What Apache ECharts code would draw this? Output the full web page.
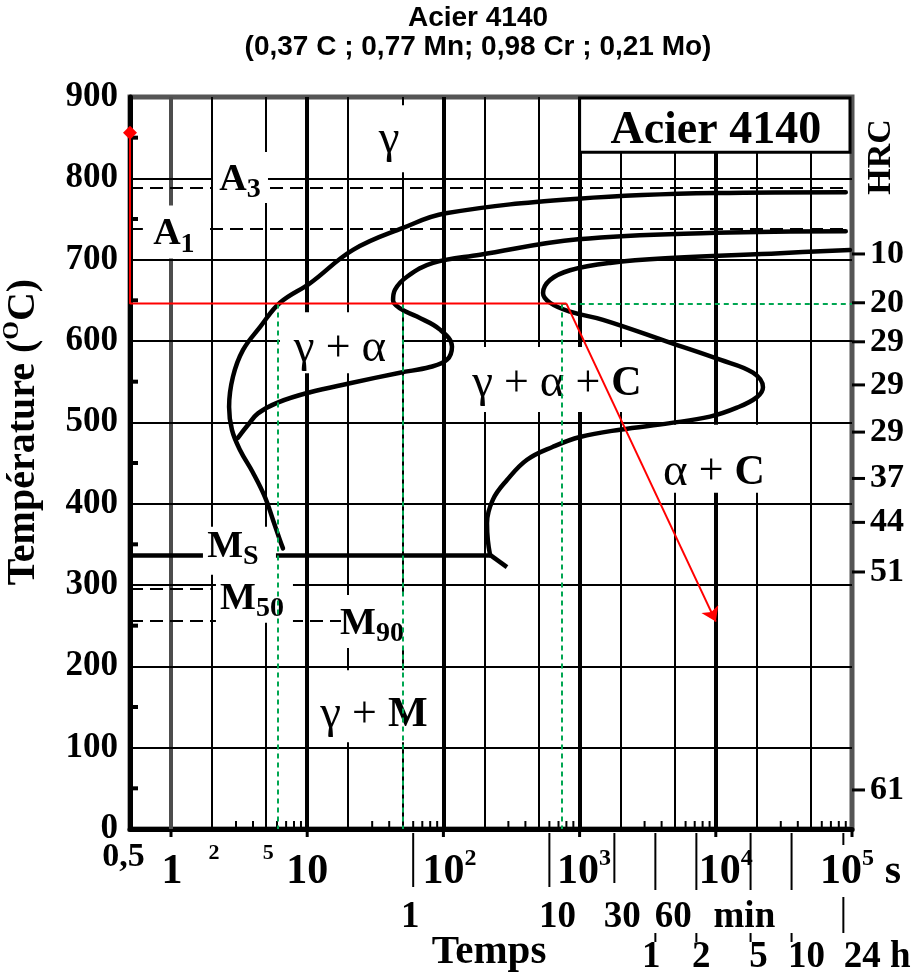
<!DOCTYPE html>
<html>
<head>
<meta charset="utf-8">
<script src="https://cdn.jsdelivr.net/npm/echarts@6/dist/echarts.min.js"></script>
<style>
html,body{margin:0;padding:0;background:#fff;}
#chart{width:920px;height:978px;}
</style>
</head>
<body>
<div id="chart"></div>
<script>
// ====================== DATA ======================
const timeMin = 0.5;
const timeMax = 100000;
const tempMin = 0;
const tempMax = 900;
const tempStep = 100;

const gridTimesGray = [1];
const gridTimesBold = [10, 100, 1000, 10000];
const gridTimesThin = [2, 5, 20, 50, 200, 500, 2000, 5000, 20000, 50000];
const gridTemps = [100, 200, 300, 400, 500, 600, 700, 800];

const tempA3 = 788;
const tempA1 = 738;
const tempMs = 337;
const tempM50 = 295;
const tempM90 = 256;

// [time (s), temperature (°C)]
const startCurve = [
  [90000, 783], [10000, 782], [973, 775], [104, 757], [50.5, 739], [21.7, 712],
  [10.5, 671], [6.31, 647], [4.50, 617], [3.38, 589], [2.85, 556], [2.67, 519],
  [2.80, 491], [3.21, 466], [4.00, 438], [4.90, 408], [5.61, 380], [6.31, 355], [6.64, 345]
];
const ferriteCurve = [
  [90000, 735], [10000, 733], [973, 725], [186, 706], [84, 696], [54, 679],
  [44.1, 663], [42.7, 650], [48.0, 640], [64.0, 630], [94.4, 614], [115.6, 593],
  [106.3, 577], [79.7, 568], [48.0, 561], [20.6, 548], [10.5, 537], [6.0, 524],
  [4.35, 511], [3.68, 497], [3.10, 481]
];
const endCurve = [
  [96600, 712], [29600, 708], [4610, 702], [1670, 696], [851, 687], [606, 675],
  [539, 659], [606, 647], [851, 636], [1486, 626], [4610, 598], [10740, 577],
  [18750, 561], [22200, 543], [20060, 531], [14300, 518], [9060, 507], [4610, 499],
  [1980, 491], [1007, 482], [638, 470], [411, 454], [293, 429], [231, 405],
  [209, 376], [212, 355], [220, 337]
];
const msLine = [[0.52, 337], [220, 337]];
const msTail = [[220, 337], [293, 322]];

const coolPath = [[0.5, 856], [0.5, 646], [800, 646]];
const coolArrow = [[800, 646], [10000, 255]];
const guideTemp = 646;
const guideTimes = [6.1, 50, 740];

const hrcTemps = [707, 647, 599, 546, 488, 431, 377, 316, 48];
const hrcLabels = ['10', '20', '29', '29', '29', '37', '44', '51', '61'];

const halfTemps = [50, 150, 250, 350, 450, 550, 650, 750, 850];
const decadeTimes = [1, 10, 100, 1000, 10000, 100000];
const minorMultipliers = [3, 4, 6, 7, 8, 9];

const secLabelTimes = [0.5, 1, 2, 5, 10, 100, 1000, 10000, 100000];
const secLabels = ['0,5', '1', '2', '5', '10', '10{s|2}', '10{s|3}', '10{s|4}', '10{s|5}'];
const minuteValues = [1, 10, 30, 60];
const minuteLabels = ['1', '10', '30', '60'];
const hourValues = [1, 2, 5, 10, 24];
const hourLabels = ['1', '2', '5', '10', '24'];

const regionTexts = [
  '{g|γ}', 'A{sub|3}', 'A{sub|1}', '{g|γ}{p| + }{g|α}', '{g|γ}{p| + }{g|α}{p| + }C',
  '{g|α}{p| + }C', 'M{sub|S}', 'M{sub|50}', 'M{sub|90}', '{g|γ}{p| + }M'
];
const regionAnchors = [
  [39.9, 848], [3.21, 798], [1.05, 731], [17.4, 590], [682, 547],
  [9700, 438], [2.85, 347], [3.93, 283], [29.9, 252], [30.9, 140]
];
const acierBox = [[1000, 900], [100000, 832]];

// ====================== STYLE / LAYOUT ======================
const SERIF = '"Liberation Serif","Times New Roman",serif';
const SANS = '"Liberation Sans",Arial,sans-serif';
function fnt(size, weight) { return (weight || 'bold') + ' ' + size + 'px ' + SERIF; }

// white boxes around region labels: [left, top, right, bottom] px relative to anchor
const regionBoxes = [
  [-29, -34, 16, 33], [-27, -28, 28, 23], [-31, -29, 32, 24], [-60, -37, 62, 24], [-87, -37, 83, 28],
  [-64, -48, 76, 20], [-30, -20, 43, 28], [-36, -26, 41, 24], [-31, -29, 38, 24], [-59, -45, 56, 27]
];
const regionFontSize = [42, 38, 38, 42, 42, 42, 38, 38, 38, 42];
const regionRich = {
  g: { font: fnt(47, 'normal'), lineHeight: 48 },
  p: { font: fnt(44, 'normal'), lineHeight: 48 },
  sub: { font: fnt(28), lineHeight: 28, verticalAlign: 'bottom' }
};
const supRich = { s: { font: fnt(24), lineHeight: 24, verticalAlign: 'top' } };

// row-1 label layout (dx, dy, size, align)
const secLabelLayout = [
  [-6.5, 28, 34, 'center'], [1, 43, 42, 'center'], [2, 24, 22, 'center'], [2, 24, 22, 'center'],
  [0, 43, 42, 'center'], [-21, 43, 42, 'left'], [-22.6, 43, 42, 'left'], [-17, 43, 42, 'left'], [-32, 43, 42, 'left']
];
const minuteLabelDx = [-3, 8, 8, 18];
const hourLabelDx = [-4, 5, 8, 15, 19];

function rectEl(x, y, w, h, fill) {
  return { type: 'rect', shape: { x: x, y: y, width: w, height: h }, style: { fill: fill || '#000' } };
}
function lineEl(x1, y1, x2, y2, w) {
  return { type: 'line', shape: { x1: x1, y1: y1, x2: x2, y2: y2 }, style: { stroke: '#000', lineWidth: w || 2 } };
}
function textEl(x, y, text, size, o) {
  o = o || {};
  return {
    type: 'text', x: x, y: y, rotation: o.rotation || 0,
    style: {
      text: text, font: o.font || fnt(size, o.weight), fill: '#000',
      align: o.align || 'center', verticalAlign: 'middle',
      lineHeight: o.lh || Math.round(size * 1.2), rich: o.rich || {}
    }
  };
}

// ====================== DECORATION ITEMS ======================
const decor = [];
halfTemps.forEach(function (T) {
  decor.push({ at: [timeMin, T], draw: function (p) { return [rectEl(p[0] + 2, p[1] - 2, 6, 4)]; } });
});
decadeTimes.slice(0, 5).forEach(function (d) {
  minorMultipliers.forEach(function (m) {
    decor.push({ at: [d * m, 0], draw: function (p) { return [rectEl(p[0] - 1, p[1] - 8, 2, 6)]; } });
  });
});
decadeTimes.forEach(function (t) {
  decor.push({ at: [t, 0], draw: function (p) { return [rectEl(p[0] - 1.5, p[1] + 2, 3, 6)]; } });
});
// minute ticks & labels
minuteValues.forEach(function (m, i) {
  const len = m === 30 ? 54 : (m === 60 ? 61 : 58);
  decor.push({ at: [m * 60, 0], draw: function (p) {
    return [lineEl(p[0], p[1] + 4, p[0], p[1] + len, 2),
            textEl(p[0] + minuteLabelDx[i], p[1] + 88, minuteLabels[i], 37)];
  } });
});
// hour ticks & labels
hourValues.forEach(function (h, i) {
  decor.push({ at: [h * 3600, 0], draw: function (p) {
    const els = [];
    if (h === 24) {
      els.push(lineEl(p[0], p[1] + 4, p[0], p[1] + 16, 2));
      els.push(lineEl(p[0], p[1] + 68, p[0], p[1] + 104, 2));
    } else {
      if (h !== 1) els.push(lineEl(p[0], p[1] + 4, p[0], p[1] + 61, 2));
      els.push(lineEl(p[0], p[1] + 104, p[0], p[1] + 113, 2));
    }
    els.push(textEl(p[0] + hourLabelDx[i], p[1] + 128, hourLabels[i], 37));
    if (h === 24) els.push(textEl(p[0] + 57, p[1] + 128, 'h', 37));
    return els;
  } });
});
// "min" unit
decor.push({ at: [minuteValues[3] * 60, 0], draw: function (p) { return [textEl(p[0] + 89, p[1] + 88, 'min', 37)]; } });
// seconds row
secLabelTimes.forEach(function (t, i) {
  const L = secLabelLayout[i];
  decor.push({ at: [t, 0], draw: function (p) {
    const els = [textEl(p[0] + L[0], p[1] + L[1], secLabels[i], L[2], { align: L[3], lh: 50, rich: supRich })];
    if (t === timeMax) els.push(textEl(p[0] + 41, p[1] + 43, 's', 42, { lh: 50 }));
    return els;
  } });
});
// HRC ticks & labels
hrcTemps.forEach(function (T, i) {
  decor.push({ at: [timeMax, T], draw: function (p) {
    return [rectEl(p[0], p[1] - 1.5, 13, 3), textEl(p[0] + 18, p[1], hrcLabels[i], 34, { align: 'left' })];
  } });
});

// ====================== SERIES ======================
function linesSeries(segs, lineStyle, z, extra) {
  return Object.assign({
    type: 'lines', coordinateSystem: 'cartesian2d', polyline: false, silent: true, z: z,
    lineStyle: Object.assign({ opacity: 1, curveness: 0 }, lineStyle),
    data: segs.map(function (c) { return { coords: c }; })
  }, extra || {});
}
const vSeg = function (t) { return [[t, tempMin], [t, tempMax]]; };
const hSeg = function (T) { return [[timeMin, T], [timeMax, T]]; };
function curveSeries(data) {
  return { type: 'line', data: data, smooth: 0.4, symbol: 'none', showSymbol: false, silent: true, clip: false,
    lineStyle: { color: '#000', width: 4.5, cap: 'round', join: 'round' }, z: 4 };
}

const series = [
  linesSeries(gridTimesGray.map(vSeg), { color: '#4d4d4d', width: 4 }, 1),
  linesSeries(gridTimesBold.map(vSeg), { color: '#000', width: 4 }, 1),
  linesSeries(gridTimesThin.map(vSeg), { color: '#000', width: 2 }, 1),
  linesSeries(gridTemps.map(hSeg), { color: '#000', width: 2 }, 1),
  linesSeries([
    [[timeMin, tempA3], [95000, tempA3]],
    [[timeMin, tempA1], [95000, tempA1]],
    [[timeMin, tempM50], [1.95, tempM50]],
    [[timeMin, tempM90], [27, tempM90]]
  ], { color: '#000', width: 2, type: [13, 7] }, 2),
  linesSeries([msLine, msTail], { color: '#000', width: 4.5 }, 2),
  curveSeries(startCurve),
  curveSeries(ferriteCurve),
  curveSeries(endCurve),
  {
    type: 'custom', coordinateSystem: 'cartesian2d', z: 3, silent: true, clip: false,
    data: regionAnchors, encode: { x: 0, y: 1 },
    renderItem: function (params, api) {
      const i = params.dataIndex;
      const p = api.coord(regionAnchors[i]);
      const b = regionBoxes[i];
      return { type: 'group', children: [
        rectEl(p[0] + b[0], p[1] + b[1], b[2] - b[0], b[3] - b[1], '#fff'),
        textEl(p[0], p[1], regionTexts[i], regionFontSize[i], { lh: 48, rich: regionRich })
      ] };
    }
  },
  {
    type: 'custom', coordinateSystem: 'cartesian2d', z: 3, silent: true, clip: false,
    data: [acierBox[0]], encode: { x: 0, y: 1 },
    renderItem: function (params, api) {
      const a = api.coord(acierBox[0]);
      const b = api.coord(acierBox[1]);
      return { type: 'group', children: [
        { type: 'rect', shape: { x: a[0], y: a[1] + 1, width: b[0] - a[0] - 2, height: b[1] - a[1] - 1 },
          style: { fill: '#fff', stroke: '#000', lineWidth: 3 } },
        textEl((a[0] + b[0]) / 2, b[1] - 21, 'Acier 4140', 46)
      ] };
    }
  },
  {
    type: 'custom', coordinateSystem: 'cartesian2d', z: 3, silent: true, clip: false,
    data: decor.map(function (d) { return d.at; }), encode: { x: 0, y: 1 },
    renderItem: function (params, api) {
      const d = decor[params.dataIndex];
      return { type: 'group', children: d.draw(api.coord(d.at)) };
    }
  },
  linesSeries(
    guideTimes.map(function (t) { return [[t, guideTemp], [t, tempMin]]; })
      .concat([[[guideTimes[2], guideTemp], [timeMax, guideTemp]]]),
    { color: '#00a651', width: 2, type: [5, 4] }, 5),
  {
    type: 'line', z: 6, silent: true, clip: false, symbol: 'none', showSymbol: true,
    data: [{ value: coolPath[0], symbol: 'diamond', symbolSize: 14 }, coolPath[1], coolPath[2]],
    lineStyle: { color: '#ff0000', width: 2 }, itemStyle: { color: '#ff0000' }
  },
  linesSeries([coolArrow], { color: '#ff0000', width: 2 }, 6, { symbol: ['none', 'arrow'], symbolSize: 14 })
];

const option = {
  animation: false,
  backgroundColor: '#fff',
  grid: { left: 130, right: 68, top: 97, bottom: 149, show: true, borderColor: '#555', borderWidth: 5 },
  xAxis: {
    type: 'log', logBase: 10, min: timeMin, max: timeMax,
    axisLine: { show: true, onZero: false, lineStyle: { color: '#000', width: 5 } },
    axisTick: { show: false }, axisLabel: { show: false }, splitLine: { show: false }
  },
  yAxis: {
    type: 'value', min: tempMin, max: tempMax, interval: tempStep,
    axisLine: { show: true, lineStyle: { color: '#000', width: 5 } },
    axisTick: { show: false }, splitLine: { show: false },
    axisLabel: { fontFamily: SERIF, fontSize: 35, fontWeight: 'bold', color: '#000', margin: 12 }
  },
  graphic: [
    textEl(478, 18, 'Acier 4140', 28, { font: 'bold 28px ' + SANS }),
    textEl(478, 47, '(0,37 C ; 0,77 Mn; 0,98 Cr ; 0,21 Mo)', 28, { font: 'bold 28px ' + SANS }),
    textEl(24, 432, 'Température ({sup|O}C)', 40, { rotation: Math.PI / 2, lh: 48,
      rich: { sup: { font: fnt(24), lineHeight: 24, verticalAlign: 'top' } } }),
    textEl(881, 157, 'HRC', 34, { rotation: Math.PI / 2 }),
    textEl(489, 952, 'Temps', 41)
  ],
  series: series
};

const chart = echarts.init(document.getElementById('chart'), null, { renderer: 'canvas' });
chart.setOption(option);
</script>
</body>
</html>
